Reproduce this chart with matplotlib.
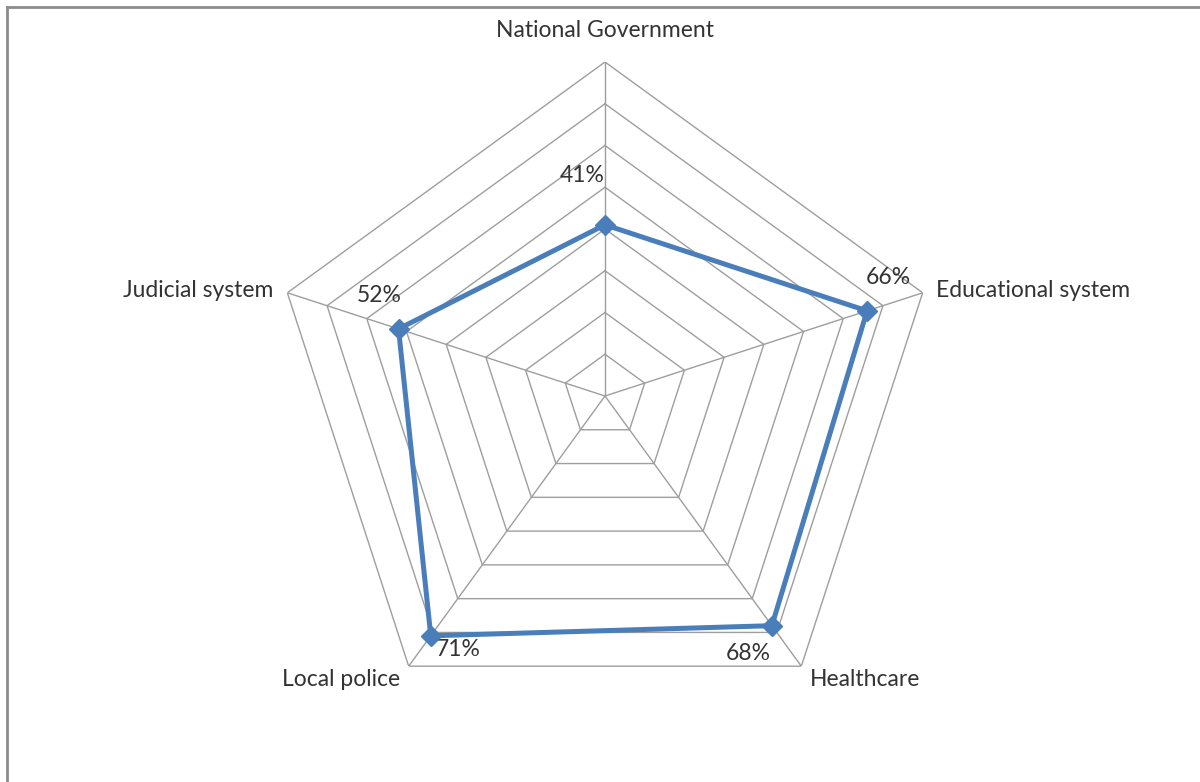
import numpy as np
import matplotlib
matplotlib.use("Agg")
import matplotlib.pyplot as plt
from matplotlib.lines import Line2D

# ---- data ----
categories = ["National Government", "Educational system", "Healthcare",
              "Local police", "Judicial system"]
values = [0.41, 0.66, 0.68, 0.71, 0.52]
ring_levels = [0.1, 0.2, 0.3, 0.4, 0.5, 0.6, 0.7, 0.8]

# label offsets in pixels (category names, value labels)
CAT_OFFSETS = [((0, 31), "center"), ((13, 2), "left"), ((9, -13), "left"),
               ((-9, -13), "right"), ((-14, 2), "right")]
VAL_OFFSETS = [(-23, 49), (21, 33), (-24, -28), (27, -14), (-19, 33)]

LINE_C = "#4A7EBB"
GRID_C = "#9E9E9E"
TEXT_C = "#333333"

plt.rcParams["font.family"] = ["Lato", "DejaVu Sans"]

W, H = 1200, 782
fig = plt.figure(figsize=(W / 100, H / 100), dpi=100)

cx, cy, R = 605, 396, 334
ax = fig.add_axes([(cx - R) / W, (H - cy - R) / H, 2 * R / W, 2 * R / H],
                  projection="polar")
ax.set_theta_offset(np.pi / 2)
ax.set_theta_direction(-1)
ax.set_ylim(0, max(ring_levels))
ax.grid(False)
ax.set_xticks([])
ax.set_yticks([])
ax.spines["polar"].set_visible(False)
ax.patch.set_visible(False)

n = len(categories)
theta = np.arange(n) * 2 * np.pi / n
theta_c = np.append(theta, theta[0])

# pentagon grid rings and spokes
for lvl in ring_levels:
    ax.plot(theta_c, [lvl] * (n + 1), color=GRID_C, lw=1.0, zorder=1)
for t in theta:
    ax.plot([t, t], [0, max(ring_levels)], color=GRID_C, lw=1.0, zorder=1)

# series
vals_c = values + values[:1]
ax.plot(theta_c, vals_c, color=LINE_C, lw=3.6, zorder=3,
        solid_joinstyle="miter")
ax.plot(theta, values, "D", color=LINE_C, ms=10, zorder=4)

# category labels at the outer vertices
for t, name, (off, ha) in zip(theta, categories, CAT_OFFSETS):
    ax.annotate(name, xy=(t, max(ring_levels)), xytext=off,
                textcoords="offset pixels", ha=ha, va="center",
                fontsize=16.5, color=TEXT_C, annotation_clip=False)

# value labels
for t, v, off in zip(theta, values, VAL_OFFSETS):
    ax.annotate(f"{v:.0%}", xy=(t, v), xytext=off,
                textcoords="offset pixels", ha="center", va="center",
                fontsize=16.5, color=TEXT_C, annotation_clip=False)

# chart-area border (top and left edges visible)
fig.add_artist(Line2D([7 / W, 1.0], [1 - 7 / H, 1 - 7 / H],
                      transform=fig.transFigure, color="#8C8C8C", lw=2.0))
fig.add_artist(Line2D([7 / W, 7 / W], [0.0, 1 - 7 / H],
                      transform=fig.transFigure, color="#8C8C8C", lw=2.0))

fig.savefig("out.png", dpi=100, facecolor="white")
